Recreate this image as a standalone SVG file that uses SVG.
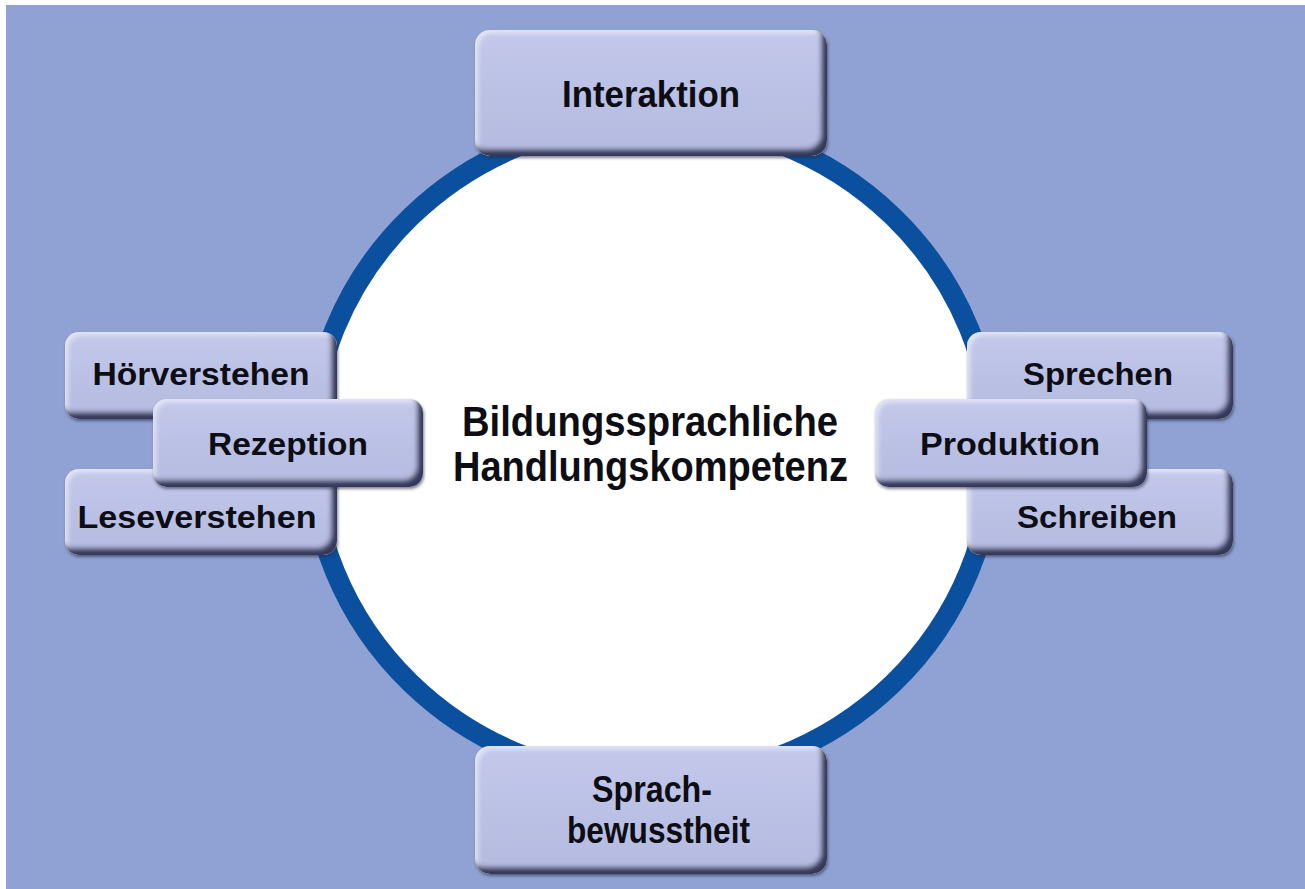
<svg xmlns="http://www.w3.org/2000/svg" width="1305" height="889" viewBox="0 0 1305 889">
  <defs>
    <linearGradient id="boxGrad" x1="0" y1="0" x2="0" y2="1">
      <stop offset="0" stop-color="#c4c9eb"/>
      <stop offset="0.5" stop-color="#bbc1e5"/>
      <stop offset="1" stop-color="#b5bbe0"/>
    </linearGradient>
    <filter id="bevel" x="-5%" y="-8%" width="112%" height="120%">
      <feGaussianBlur in="SourceAlpha" stdDeviation="2.4" result="b"/>
      <feOffset in="b" dx="-6" dy="-7" result="o"/>
      <feComposite in="SourceAlpha" in2="o" operator="out" result="inner"/>
      <feFlood flood-color="#34385a"/>
      <feComposite in2="inner" operator="in" result="shade"/>
      <feOffset in="b" dx="3" dy="3" result="o2"/>
      <feComposite in="SourceAlpha" in2="o2" operator="out" result="inner2"/>
      <feFlood flood-color="#ffffff" flood-opacity="0.5"/>
      <feComposite in2="inner2" operator="in" result="hl"/>
      <feOffset in="SourceAlpha" dx="1" dy="2" result="so"/>
      <feGaussianBlur in="so" stdDeviation="1.5" result="sb"/>
      <feFlood flood-color="#2a2d45" flood-opacity="0.6"/>
      <feComposite in2="sb" operator="in" result="drop"/>
      <feMerge>
        <feMergeNode in="drop"/>
        <feMergeNode in="SourceGraphic"/>
        <feMergeNode in="hl"/>
        <feMergeNode in="shade"/>
      </feMerge>
    </filter>
  </defs>
  <style>
    .box { fill: url(#boxGrad); filter: url(#bevel); }
    .lbl { font-family: "Liberation Sans", Arial, sans-serif; font-weight: bold; fill: #0d0d14; text-anchor: middle; }
    .s32 { font-size: 32px; }
    .s37 { font-size: 37px; }
    .s42 { font-size: 42px; }
  </style>

  <rect x="0" y="0" width="1305" height="889" fill="#ffffff"/>
  <rect x="6" y="5" width="1299" height="884" fill="#8fa2d3"/>

  <g id="ring">
    <ellipse cx="652" cy="450" rx="341" ry="330" fill="#ffffff" stroke="#0a509f" stroke-width="20"/>
  </g>

  <g id="center">
    <text class="lbl s42" x="650" y="436" textLength="376" lengthAdjust="spacingAndGlyphs">Bildungssprachliche</text>
    <text class="lbl s42" x="650.5" y="481" textLength="395" lengthAdjust="spacingAndGlyphs">Handlungskompetenz</text>
  </g>

  <g id="interaktion">
    <rect class="box" x="475" y="30" width="352" height="126" rx="15"/>
    <text class="lbl s37" x="651" y="107" textLength="178" lengthAdjust="spacingAndGlyphs">Interaktion</text>
  </g>

  <g id="sprachbewusstheit">
    <rect class="box" x="475" y="746" width="352" height="128" rx="15"/>
    <text class="lbl s37" x="652" y="802" textLength="120" lengthAdjust="spacingAndGlyphs">Sprach-</text>
    <text class="lbl s37" x="658.5" y="843" textLength="183" lengthAdjust="spacingAndGlyphs">bewusstheit</text>
  </g>

  <g id="hoerverstehen">
    <rect class="box" x="65" y="332" width="272" height="87" rx="14"/>
    <text class="lbl s32" x="201" y="385" textLength="217" lengthAdjust="spacingAndGlyphs">Hörverstehen</text>
  </g>
  <g id="leseverstehen">
    <rect class="box" x="65" y="469" width="272" height="86" rx="14"/>
    <text class="lbl s32" x="197" y="528" textLength="239" lengthAdjust="spacingAndGlyphs">Leseverstehen</text>
  </g>
  <g id="rezeption">
    <rect class="box" x="153" y="399" width="270" height="88" rx="14"/>
    <text class="lbl s32" x="288" y="455" textLength="160" lengthAdjust="spacingAndGlyphs">Rezeption</text>
  </g>

  <g id="sprechen">
    <rect class="box" x="967" y="332" width="266" height="87" rx="14"/>
    <text class="lbl s32" x="1098" y="385" textLength="150" lengthAdjust="spacingAndGlyphs">Sprechen</text>
  </g>
  <g id="schreiben">
    <rect class="box" x="967" y="469" width="266" height="86" rx="14"/>
    <text class="lbl s32" x="1097" y="528" textLength="160" lengthAdjust="spacingAndGlyphs">Schreiben</text>
  </g>
  <g id="produktion">
    <rect class="box" x="875" y="399" width="272" height="88" rx="14"/>
    <text class="lbl s32" x="1010" y="455" textLength="180" lengthAdjust="spacingAndGlyphs">Produktion</text>
  </g>
</svg>
